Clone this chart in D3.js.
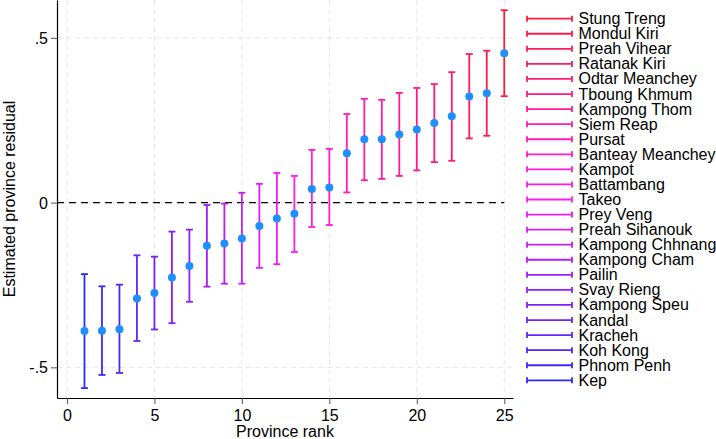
<!DOCTYPE html>
<html>
<head>
<meta charset="utf-8">
<script src="https://cdn.jsdelivr.net/npm/d3@7"></script>
<style>
  body { margin: 0; background: #fff; }
  text { font-family: "Liberation Sans", Arial, Helvetica, sans-serif; fill: #000; }
</style>
</head>
<body>
<div id="chart"></div>
<script>
// rank 1..25
const ranks = d3.range(1, 26);
const estimate = [-0.390, -0.389, -0.384, -0.291, -0.274, -0.227, -0.192, -0.131, -0.124, -0.109,
                  -0.071, -0.048, -0.034, 0.041, 0.046, 0.150, 0.192, 0.192, 0.207, 0.222,
                  0.242, 0.262, 0.322, 0.332, 0.453];
const lower = [-0.563, -0.523, -0.517, -0.420, -0.385, -0.366, -0.301, -0.255, -0.246, -0.246,
               -0.198, -0.187, -0.150, -0.074, -0.068, 0.031, 0.068, 0.072, 0.081, 0.098,
               0.123, 0.127, 0.195, 0.203, 0.323];
const upper = [-0.217, -0.254, -0.249, -0.160, -0.164, -0.088, -0.082, -0.007, -0.003, 0.030,
               0.057, 0.090, 0.081, 0.160, 0.163, 0.269, 0.315, 0.312, 0.333, 0.348,
               0.360, 0.396, 0.451, 0.461, 0.584];
// legend order (top = rank 25, bottom = rank 1)
const provinces = ['Stung Treng', 'Mondul Kiri', 'Preah Vihear', 'Ratanak Kiri', 'Odtar Meanchey',
                   'Tboung Khmum', 'Kampong Thom', 'Siem Reap', 'Pursat', 'Banteay Meanchey',
                   'Kampot', 'Battambang', 'Takeo', 'Prey Veng', 'Preah Sihanouk',
                   'Kampong Chhnang', 'Kampong Cham', 'Pailin', 'Svay Rieng', 'Kampong Speu',
                   'Kandal', 'Kracheh', 'Koh Kong', 'Phnom Penh', 'Kep'];
const xTicks = [0, 5, 10, 15, 20, 25];
const yTicks = [-0.5, 0, 0.5];
const yTickLabels = ['-.5', '0', '.5'];

const width = 716, height = 439;
const margin = { top: 0, right: 203, bottom: 41, left: 57 };
const fs = 16;

const svg = d3.select('#chart').append('svg')
    .attr('width', width)
    .attr('height', height);

const x = d3.scaleLinear().domain([-0.57, 25.5]).range([margin.left, width - margin.right]);
const y = d3.scaleLinear().domain([-0.593, 0.615]).range([height - margin.bottom, margin.top]);

// colour per rank: blue -> purple -> magenta -> red
const col = d3.scaleLinear()
    .domain([1, 8, 13, 25])
    .range(['#2b2bff', '#a51cf5', '#ff1cf0', '#ff1a3c'])
    .interpolate(d3.interpolateRgb);

// grid
const grid = svg.append('g');
grid.selectAll('line.gx').data(xTicks).join('line')
    .attr('x1', d => x(d)).attr('x2', d => x(d))
    .attr('y1', y.range()[1]).attr('y2', y.range()[0])
    .attr('stroke', '#e6e6e6').attr('stroke-dasharray', '5,4');
grid.selectAll('line.gy').data(yTicks.filter(d => d !== 0)).join('line')
    .attr('x1', x.range()[0]).attr('x2', x.range()[1])
    .attr('y1', d => y(d)).attr('y2', d => y(d))
    .attr('stroke', '#e6e6e6').attr('stroke-dasharray', '5,4');

// zero reference line
svg.append('line')
    .attr('x1', x.range()[0]).attr('x2', x(25))
    .attr('y1', y(0)).attr('y2', y(0))
    .attr('stroke', '#000').attr('stroke-width', 1.3)
    .attr('stroke-dasharray', '7,5');

// axes
const gx = svg.append('g')
    .attr('transform', `translate(0,${y.range()[0]})`)
    .call(d3.axisBottom(x).tickValues(xTicks).tickFormat(d3.format('d')).tickSize(6).tickSizeOuter(0));
const gy = svg.append('g')
    .attr('transform', `translate(${x.range()[0]},0)`)
    .call(d3.axisLeft(y).tickValues(yTicks).tickFormat((d, i) => yTickLabels[i]).tickSize(6).tickSizeOuter(0).tickPadding(3));

[gx, gy].forEach(g => {
    g.select('.domain').attr('stroke', '#000').attr('stroke-width', 1.2);
    g.selectAll('.tick line').attr('stroke', '#555');
    g.selectAll('.tick text').attr('font-size', fs)
        .attr('font-family', '"Liberation Sans", Arial, sans-serif').attr('fill', '#000');
});
gx.selectAll('.tick text').attr('y', 23).attr('dy', 0);
gy.selectAll('.tick text').attr('dy', '0.35em');

// axis titles
svg.append('text')
    .attr('x', 285)
    .attr('y', 437)
    .attr('text-anchor', 'middle')
    .attr('font-size', fs)
    .text('Province rank');
svg.append('text')
    .attr('transform', `translate(15,${(y.range()[0] + y.range()[1]) / 2}) rotate(-90)`)
    .attr('text-anchor', 'middle')
    .attr('font-size', fs)
    .text('Estimated province residual');

// error bars
const cap = 3.5;
const bars = svg.append('g').selectAll('g').data(ranks).join('g')
    .attr('stroke', d => col(d)).attr('stroke-width', 1.8);
bars.append('line')
    .attr('x1', d => x(d)).attr('x2', d => x(d))
    .attr('y1', (d, i) => y(lower[i])).attr('y2', (d, i) => y(upper[i]));
bars.append('line')
    .attr('x1', d => x(d) - cap).attr('x2', d => x(d) + cap)
    .attr('y1', (d, i) => y(lower[i])).attr('y2', (d, i) => y(lower[i]));
bars.append('line')
    .attr('x1', d => x(d) - cap).attr('x2', d => x(d) + cap)
    .attr('y1', (d, i) => y(upper[i])).attr('y2', (d, i) => y(upper[i]));

// points
svg.append('g').selectAll('circle').data(ranks).join('circle')
    .attr('cx', d => x(d))
    .attr('cy', (d, i) => y(estimate[i]))
    .attr('r', 4)
    .attr('fill', '#1e8fff');

// legend
const lg = svg.append('g');
const ly = d3.scalePoint().domain(provinces).range([18.7, 380.3]);
const item = lg.selectAll('g').data(provinces).join('g')
    .attr('transform', d => `translate(0,${ly(d)})`);
item.each(function (d, i) {
    const c = col(25 - i);
    const g = d3.select(this).attr('stroke', c).attr('stroke-width', 1.8);
    g.append('line').attr('x1', 527).attr('x2', 572).attr('y1', 0).attr('y2', 0);
    g.append('line').attr('x1', 527).attr('x2', 527).attr('y1', -3).attr('y2', 3);
    g.append('line').attr('x1', 572).attr('x2', 572).attr('y1', -3).attr('y2', 3);
});
item.append('text')
    .attr('x', 578.5)
    .attr('y', 5.5)
    .attr('font-size', fs)
    .attr('stroke', 'none')
    .text(d => d);
</script>
</body>
</html>
